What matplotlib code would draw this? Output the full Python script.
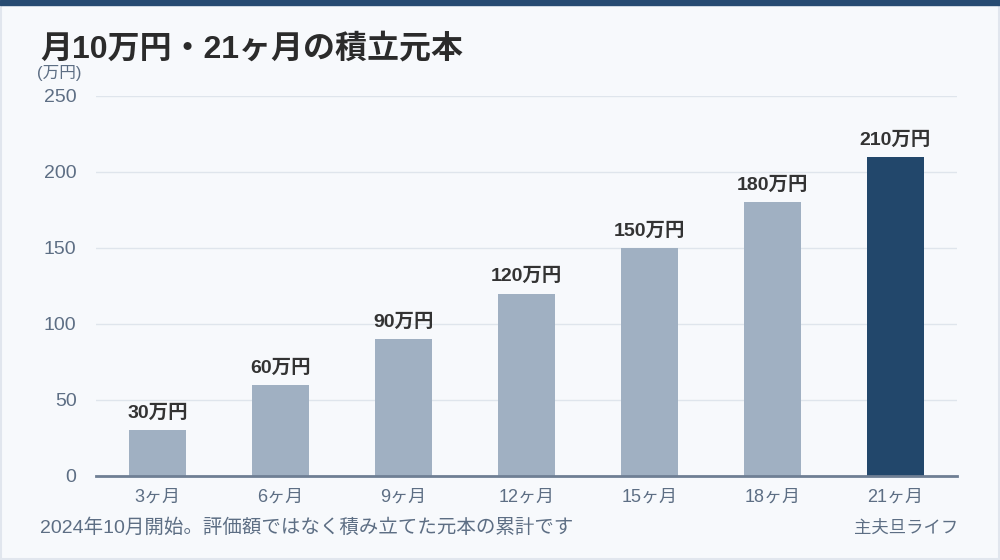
import matplotlib
matplotlib.use("Agg")
import matplotlib.pyplot as plt

plt.rcParams['font.family'] = ['Liberation Sans', 'Noto Sans CJK JP', 'DejaVu Sans']

categories = ["3ヶ月", "6ヶ月", "9ヶ月", "12ヶ月", "15ヶ月", "18ヶ月", "21ヶ月"]
values = [30, 60, 90, 120, 150, 180, 210]
value_labels = ["30万円", "60万円", "90万円", "120万円", "150万円", "180万円", "210万円"]
yticks = [0, 50, 100, 150, 200, 250]

bg = "#f7f9fc"
fig = plt.figure(figsize=(10, 5.6), dpi=100, facecolor=bg)
# top bar
fig.patches.append(plt.Rectangle((0, 1 - 5/560), 1, 5/560, transform=fig.transFigure,
                                 color="#274b72", zorder=5))
fig.patches.append(plt.Rectangle((0.001, 0.002), 0.998, 1 - 5/560 - 0.002, transform=fig.transFigure,
                                 fill=False, edgecolor="#e1e6ee", linewidth=1.5, zorder=4))

ax = fig.add_axes([0.096, 0.15, 0.861, 0.6786])
ax.set_facecolor(bg)
colors = ["#a0b0c2"] * (len(values) - 1) + ["#22476b"]
x = list(range(len(values)))
ax.bar(x, values, width=0.47, color=colors, zorder=3)
for xi, v, lab in zip(x, values, value_labels):
    ax.annotate(lab, (xi, v), xytext=(0, 6), textcoords="offset points",
                ha="center", va="bottom", fontsize=14, fontweight="bold", color="#333333")

ax.set_xlim(-0.5, len(values) - 0.5)
ax.set_ylim(0, 250)
ax.set_yticks(yticks)
ax.set_yticklabels([str(t) for t in yticks], fontsize=14, color="#5d6e84")
ax.set_xticks(x)
ax.set_xticklabels(categories, fontsize=13, color="#5d6e84")
ax.tick_params(axis="both", length=0)
ax.tick_params(axis="y", pad=14)
ax.tick_params(axis="x", pad=9)
ax.grid(axis="y", color="#dfe5ec", linewidth=1, zorder=0)
for s in ["top", "right", "left"]:
    ax.spines[s].set_visible(False)
ax.spines["bottom"].set_color("#6f7f94")
ax.spines["bottom"].set_linewidth(2)
ax.spines["bottom"].set_zorder(4)

fig.text(0.04, 0.912, "月10万円・21ヶ月の積立元本", fontsize=23, fontweight="bold",
         color="#2b2b2b", ha="left", va="center")
fig.text(0.037, 0.869, "(万円)", fontsize=12, color="#5d6e84", ha="left", va="center")
fig.text(0.04, 0.058, "2024年10月開始。評価額ではなく積み立てた元本の累計です", fontsize=14,
         color="#5d6e84", ha="left", va="center")
fig.text(0.958, 0.058, "主夫旦ライフ", fontsize=12.5, color="#5d6e84", ha="right", va="center")

fig.savefig("out.png", dpi=100, facecolor=bg)
